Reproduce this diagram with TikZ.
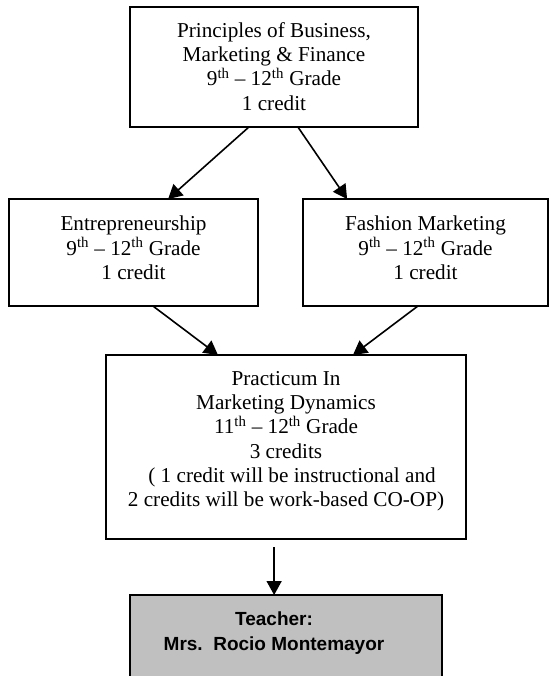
\documentclass[tikz,border=0pt]{standalone}
\usepackage{fontspec}
\setmainfont{Liberation Serif}
\newfontfamily\arialf{Liberation Sans}
\usetikzlibrary{arrows.meta,calc}
\definecolor{tgray}{RGB}{192,192,192}
\begin{document}
\begin{tikzpicture}[x=1pt,y=-1pt,
 box/.style={draw,line width=2pt,inner sep=0pt,outer sep=0pt,anchor=north west},
 txt/.style={align=center,font=\fontsize{21.2}{24.3}\selectfont,inner sep=0pt,anchor=north},
 ttxt/.style={align=center,font=\arialf\bfseries\fontsize{19}{25}\selectfont,inner sep=0pt,anchor=north},
 arr/.style={line width=1.6pt,-{Triangle[length=14pt,width=15pt]}}]
\useasboundingbox (0,0) rectangle (556,676);
\node[box,minimum width=288pt,minimum height=120pt] (top) at (130,7) {};
\node[box,minimum width=249pt,minimum height=107pt] (left) at (9,199) {};
\node[box,minimum width=245pt,minimum height=107pt] (right) at (303,199) {};
\node[box,minimum width=360pt,minimum height=184pt] (mid) at (106,355) {};
\node[box,fill=tgray,minimum width=312pt,minimum height=83pt] (teach) at (130,595) {};

\node[txt] (toptxt) at (274,22) {Principles of Business,\\ Marketing \& Finance\\ 9\textsuperscript{th} – 12\textsuperscript{th} Grade\\ 1 credit};
\node[txt] (lefttxt) at (133.5,216) {Entrepreneurship\\ 9\textsuperscript{th} – 12\textsuperscript{th} Grade\\ 1 credit};
\node[txt] (righttxt) at (425.5,216) {Fashion Marketing\\ 9\textsuperscript{th} – 12\textsuperscript{th} Grade\\ 1 credit};
\node[txt] (midtxt) at (286,371) {Practicum In\\ Marketing Dynamics\\ 11\textsuperscript{th} – 12\textsuperscript{th} Grade\\ 3 credits\\ \hspace*{12pt}( 1 credit will be instructional and\\ 2 credits will be work-based CO-OP)};
\node[ttxt] (teachtxt) at (274,612) {Teacher:\\ Mrs.\ \ Rocio Montemayor};

\draw[arr] ($(top.south west)!0.413!(top.south east)$) -- ($(left.north west)!0.639!(left.north east)$);
\draw[arr] ($(top.south west)!0.583!(top.south east)$) -- ($(right.north west)!0.18!(right.north east)$);
\draw[arr] ($(left.south west)!0.578!(left.south east)$) -- ($(mid.north west)!0.311!(mid.north east)$);
\draw[arr] ($(right.south west)!0.469!(right.south east)$) -- ($(mid.north west)!0.686!(mid.north east)$);
\coordinate (vstart) at ($(mid.south west)!0.467!(mid.south east)+(0,8)$);
\draw[arr] (vstart) -- (vstart |- teach.north);
\end{tikzpicture}
\end{document}
